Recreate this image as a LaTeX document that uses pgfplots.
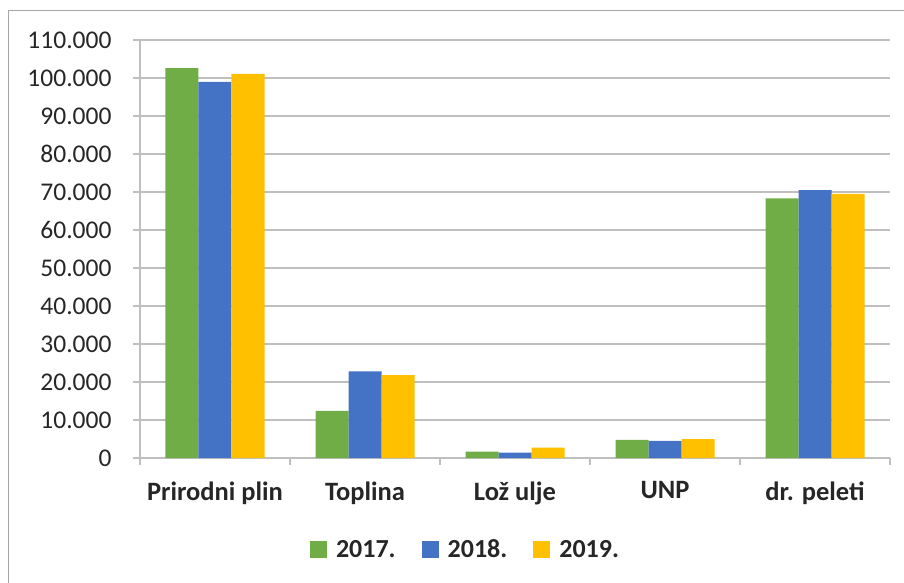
\documentclass[border=0pt]{standalone}
\usepackage{fontspec}
\setmainfont{Carlito}
\usepackage{pgfplots}
\pgfplotsset{compat=1.18}
\definecolor{c17}{HTML}{70AD47}
\definecolor{c18}{HTML}{4472C4}
\definecolor{c19}{HTML}{FFC000}
\definecolor{gridgray}{HTML}{BFBFBF}
\definecolor{framegray}{HTML}{A6A6A6}
\definecolor{txt}{HTML}{262626}
\begin{document}
\begin{tikzpicture}
\useasboundingbox (-140pt,-124pt) rectangle (764pt,458pt);
\draw[framegray, line width=1pt] (-131pt,-130pt) -- (-131pt,447pt) -- (770pt,447pt);
\begin{axis}[
    scale only axis,
    width=750pt, height=418pt,
    ybar=0pt, bar width=33pt,
    xmin=-0.5, xmax=4.5,
    ymin=0, ymax=110000,
    axis x line*=bottom, axis y line*=left,
    axis line style={gridgray, line width=1.5pt},
    xtick={-0.5,0.5,...,4.5}, xticklabels={,,,,,},
    extra x ticks={0,1,2,3,4},
    extra x tick labels={Prirodni plin,Toplina,Lož ulje,UNP,dr. peleti},
    extra x tick style={major tick length=0pt, grid=none,
      ticklabel style={font=\fontsize{26.5pt}{30pt}\selectfont\bfseries, text=txt, yshift=-20pt}},
    ytick={0,10000,...,110000},
    scaled y ticks=false,
    yticklabels={0,10.000,20.000,30.000,40.000,50.000,60.000,70.000,80.000,90.000,100.000,110.000},
    yticklabel style={font=\fontsize{25.5pt}{30pt}\selectfont, text=txt, xshift=-18pt},
    tick align=outside, major tick length=7pt,
    tick style={gridgray, line width=1.5pt},
    ymajorgrids,
    major grid style={gridgray, line width=1.5pt},
    legend columns=-1,
    legend style={draw=none, fill=none, at={(0.434,-0.219)}, anchor=center,
      font=\fontsize{26pt}{30pt}\selectfont\bfseries, text=txt,
      column sep=7pt,
      /tikz/every even column/.append style={column sep=24pt}},
    legend image code/.code={\fill[#1] (0pt,-8.5pt) rectangle (17pt,8.5pt);},
]
\addplot[fill=c17, draw=none] coordinates {(0,102600) (1,12400) (2,1700) (3,4800) (4,68300)};
\addplot[fill=c18, draw=none] coordinates {(0,99000) (1,22800) (2,1400) (3,4500) (4,70500)};
\addplot[fill=c19, draw=none] coordinates {(0,101100) (1,21800) (2,2700) (3,5000) (4,69500)};
\legend{2017.,2018.,2019.}
\end{axis}
\end{tikzpicture}
\end{document}
